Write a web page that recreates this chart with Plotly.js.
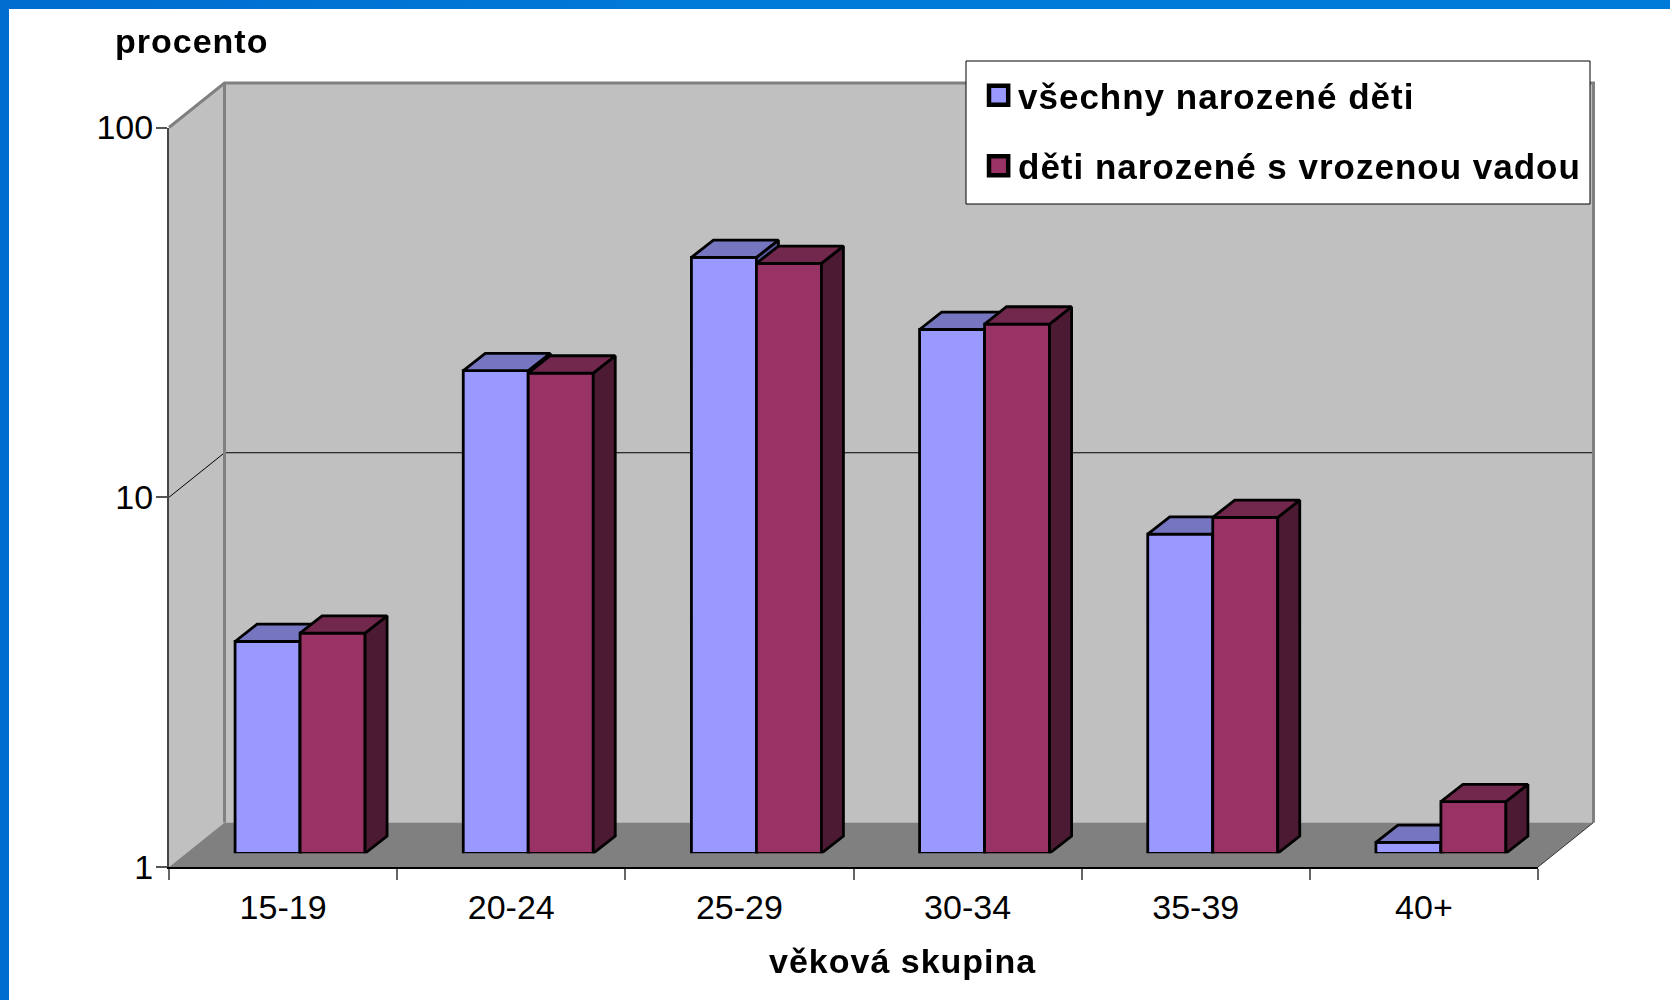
<!DOCTYPE html>
<html lang="cs">
<head>
<meta charset="utf-8">
<script src="https://cdn.plot.ly/plotly-3.0.1.min.js"></script>
<style>
html,body{margin:0;padding:0;background:#fff;overflow:hidden}
#chart{position:absolute;left:0;top:0;width:1670px;height:1000px}
.frame{position:absolute;pointer-events:none;z-index:5}
#ft{left:0;top:0;width:1670px;height:9px;background:linear-gradient(90deg,#006CD0,#007AD9 40%,#007AD9)}
#fl{left:0;top:0;width:9px;height:1000px;background:#006CD0}
.legendtext{letter-spacing:1px}
.annotation-text{letter-spacing:1px}
g.legendpoints path{scale:1.6;translate:-9px 0}
</style>
</head>
<body>
<div id="chart"></div>
<div class="frame" id="ft"></div>
<div class="frame" id="fl"></div>
<script>
// ---- data ----
const categories = ['15-19','20-24','25-29','30-34','35-39','40+'];
const allBirths  = [3.74, 20.2, 40.9, 26.1, 7.3, 1.07];
const defectBirths = [3.94, 19.9, 39.4, 27.0, 8.1, 1.38];
const seriesNames = ['všechny narozené děti','děti narozené s vrozenou vadou'];
const yTicks = [1,10,100];

// ---- page geometry (pixels) ----
const L=169, R=1538, T=127.5, B=867, backDX=55.5, backDY=44.5;
const planeDX=17, planeDY=13.7, barDX=22, barDY=17.3;
const marginR=76, marginT=83;
const paperW=1670-L-marginR, paperH=1000-marginT-(1000-B);
const unitX=(R-L)/categories.length, decade=(B-T)/2;
const halfBar=65/unitX;
const n=categories.length;
const centers=categories.map((c,i)=>i+0.5);

const fx=p=>(p-L)/paperW, fy=p=>(B-p)/paperH;
const pathOf=pts=>pts.map((p,i)=>(i?'L':'M')+fx(p[0])+','+fy(p[1])).join(' ');
const shape=(pts,close,fill,color,width,layer)=>({type:'path',xref:'paper',yref:'paper',layer:layer||'below',
  path:pathOf(pts)+(close?' Z':''),fillcolor:fill||'rgba(0,0,0,0)',line:{color:color||'rgba(0,0,0,0)',width:width||0}});
const mid=(T+B)/2;
const shapes=[
  shape([[L+backDX,T-backDY],[R+backDX,T-backDY],[R+backDX,B-backDY],[L+backDX,B-backDY]],true,'#C0C0C0'),
  shape([[L,B],[L+backDX,B-backDY],[L+backDX,T-backDY],[L,T]],true,'#C0C0C0'),
  shape([[L,B],[R,B],[R+backDX,B-backDY],[L+backDX,B-backDY]],true,'#808080'),
  shape([[L,mid],[L+backDX,mid-backDY],[R+backDX,mid-backDY]],false,null,'#000',1),
  shape([[L,T],[L+backDX,T-backDY],[R+backDX,T-backDY],[R+backDX,B-backDY]],false,null,'#808080',3),
  shape([[L+backDX,T-backDY],[L+backDX,B-backDY]],false,null,'#808080',3),
  shape([[R,B],[R+backDX,B-backDY]],false,null,'#333',1),
  shape([[966,61],[1590,61],[1590,204],[966,204]],true,'#fff','#000',1,'above')
];

// project a point (x, value) back by a depth in pixels
const px=(x,dx)=>x+dx/unitX;
const py=(v,dy)=>Math.pow(10,Math.log10(v)+dy/decade);
function poly(points,xa,ya,fill,lineColor,lineWidth){
  return {type:'scatter',mode:'lines',xaxis:xa,yaxis:ya,
    x:points.map(p=>p[0]),y:points.map(p=>p[1]),
    fill:fill?'toself':'none',fillcolor:fill||undefined,
    line:{color:lineColor,width:lineWidth,shape:'linear'},
    showlegend:false,hoverinfo:'skip'};
}
const traces=[];
// invisible anchor so the visible axes own a subplot
traces.push({type:'scatter',mode:'markers',x:centers.slice(0,3),y:yTicks,xaxis:'x',yaxis:'y',opacity:0,showlegend:false,hoverinfo:'skip'});

// one bar series with its top and side faces, on its own pair of axes
function series(values,name,xa,ya,offset,front,top,side){
  traces.push({type:'bar',name:name,x:centers,y:values,xaxis:xa,yaxis:ya,
    width:halfBar,offset:offset,legendgroup:name,
    marker:{color:front,line:{color:'#000',width:2.8}},hoverinfo:'x+y'});
  values.forEach((v,i)=>{
    const x0=centers[i]+offset, x1=x0+halfBar;
    const d=(x,val)=>[px(x,barDX),py(val,barDY)];
    traces.push(poly([[x1,1],d(x1,1),d(x1,v),[x1,v],[x1,1]],xa,ya,side,'#000',2.8));
    traces.push(poly([[x0,v],d(x0,v),d(x1,v),[x1,v],[x0,v]],xa,ya,top,'#000',2.8));
    traces.push(poly([[x0,1],[x1,1]],xa,ya,null,'#000',2.8));
  });
}
series(allBirths,seriesNames[0],'x2','y2',-halfBar,'#9999FF','#7676C0','#5A5AA0');
series(defectBirths,seriesNames[1],'x3','y3',0,'#993366','#72274D','#4D1A33');

const hidden=(dom,extra)=>Object.assign({visible:false,domain:dom,fixedrange:true},extra);
const planeX=[fx(L+planeDX),Math.min(1,fx(R+planeDX))];
const planeY=[fy(B-planeDY),fy(T-planeDY)];
const font='"Liberation Sans", Arial, sans-serif';

const layout={
  width:1670,height:1000,
  margin:{l:L,r:marginR,t:marginT,b:1000-B,pad:0},
  paper_bgcolor:'#fff',plot_bgcolor:'rgba(0,0,0,0)',
  font:{family:font,size:34,color:'#000'},
  showlegend:true,
  bargap:0,
  shapes:shapes,
  xaxis:{domain:[0,fx(R)],range:[0,n],tickmode:'array',tickvals:centers,ticktext:categories,
    ticks:'outside',ticklen:9.5,tickcolor:'rgba(0,0,0,0)',tickfont:{size:34,family:font},
    showgrid:false,zeroline:false,showline:true,linecolor:'#000',linewidth:2,anchor:'y',fixedrange:true,
    minor:{tickmode:'array',tickvals:Array.from({length:n+1},(_,i)=>i),ticks:'outside',ticklen:11,tickwidth:2,tickcolor:'#666',showgrid:false}},
  yaxis:{domain:[0,fy(T)],type:'log',range:[0,2],tickmode:'array',tickvals:yTicks,ticktext:yTicks.map(String),
    ticks:'outside',ticklen:11,tickwidth:2,tickcolor:'#555',tickfont:{size:34,family:font},ticklabelstandoff:-4,
    showgrid:false,zeroline:false,showline:true,linecolor:'#444',linewidth:2,anchor:'x',fixedrange:true},
  xaxis2:hidden(planeX,{range:[0,n],anchor:'y2'}),
  yaxis2:hidden(planeY,{type:'log',range:[0,2],anchor:'x2'}),
  xaxis3:hidden(planeX,{range:[0,n],anchor:'y3'}),
  yaxis3:hidden(planeY,{type:'log',range:[0,2],anchor:'x3'}),
  legend:{x:fx(966),y:fy(66),xanchor:'left',yanchor:'top',bgcolor:'rgba(0,0,0,0)',borderwidth:0,
    font:{family:font,size:35,color:'#000',weight:700},traceorder:'grouped',tracegroupgap:22,itemwidth:42},
  annotations:[
    {text:'<b>procento</b>',xref:'paper',yref:'paper',x:fx(113),y:fy(41),xanchor:'left',yanchor:'middle',showarrow:false,font:{family:font,size:34}},
    {text:'<b>věková skupina</b>',xref:'paper',yref:'paper',x:fx(902),y:fy(961),xanchor:'center',yanchor:'middle',showarrow:false,font:{family:font,size:34}}
  ]
};
Plotly.newPlot('chart',traces,layout,{displayModeBar:false,staticPlot:true,responsive:false});
</script>
</body>
</html>
